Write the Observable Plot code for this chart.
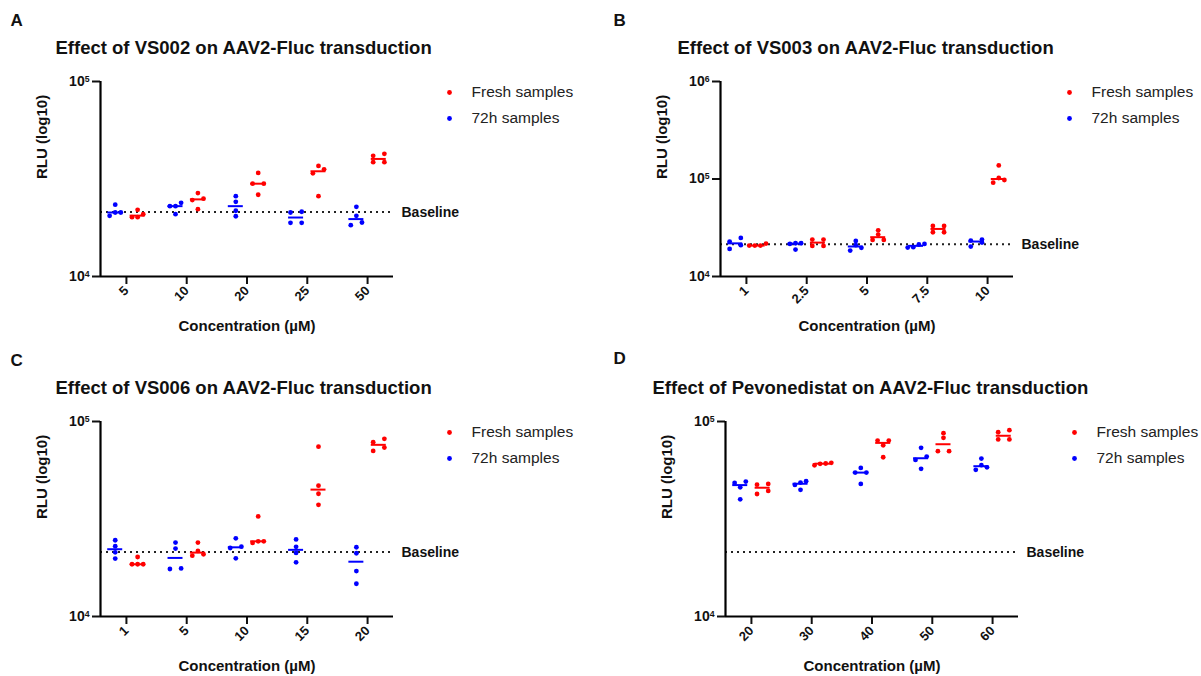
<!DOCTYPE html>
<html><head><meta charset="utf-8">
<script src="https://cdn.jsdelivr.net/npm/d3@7"></script>
<script src="https://cdn.jsdelivr.net/npm/@observablehq/plot@0.6"></script>
<style>
body{margin:0;background:#fff;width:1201px;height:676px;overflow:hidden;position:relative;font-family:"Liberation Sans",Arial,sans-serif}
.panel{position:absolute}
.panel svg{overflow:visible}
</style></head><body>
<div id="pA" class="panel" style="left:0;top:0"></div>
<div id="pB" class="panel" style="left:600px;top:0"></div>
<div id="pC" class="panel" style="left:0;top:340px"></div>
<div id="pD" class="panel" style="left:600px;top:340px"></div>
<script>
// ---------- data ----------
const seriesNames = ["Fresh samples", "72h samples"];
const seriesColors = ["#ff0000", "#0000ff"];
const baselineRLU = 21400;

const titleA = "Effect of VS002 on AAV2-Fluc transduction";
const catsA = ["5", "10", "20", "25", "50"];
const h72A = [[20480, 23340, 21290, 21290], [23880, 22950, 22950, 20880], [25830, 24160, 21730, 20370], [21290, 21480, 18840, 18840], [22760, 20480, 18330, 18920]];
const freshA = [[20880, 20150, 21980, 20150], [26790, 25060, 24660, 22150], [33970, 29920, 29920, 26260], [36900, 35470, 33810, 25830], [42570, 41580, 38570, 38570]];

const titleB = "Effect of VS003 on AAV2-Fluc transduction";
const catsB = ["1", "2.5", "5", "7.5", "10"];
const h72B = [[22800, 19190, 24890, 20940], [21940, 21590, 21940, 18870], [18460, 23170, 19680, 20940], [21590, 21280, 19970, 19810], [23940, 23380, 22290, 20280]];
const freshB = [[21780, 20750, 20750, 20750], [23940, 20600, 23940, 20600], [29780, 26900, 23720, 23720], [33040, 28450, 33040, 28450], [137800, 102400, 91600, 97700]];

const titleC = "Effect of VS006 on AAV2-Fluc transduction";
const catsC = ["1", "5", "10", "15", "20"];
const h72C = [[24610, 22930, 21330, 19820], [23950, 22300, 17520, 17640], [25180, 22810, 22460, 19870], [24850, 22760, 21180, 18970], [22650, 21100, 17100, 14720]];
const freshC = [[20190, 18530, 18530, 18530], [23950, 21680, 20850, 20520], [32590, 23830, 24300, 24300], [74300, 46880, 42600, 37400], [81510, 78340, 73500, 70630]];

const titleD = "Effect of Pevonedistat on AAV2-Fluc transduction";
const catsD = ["20", "30", "40", "50", "60"];
const h72D = [[48400, 45980, 49170, 39910], [49380, 48600, 47300, 44610], [54700, 57830, 54700, 47870], [73300, 66070, 63530, 57170], [64570, 59720, 56510, 58240]];
const freshD = [[47450, 47830, 44040, 42490], [61380, 60890, 59650, 60640], [79800, 79800, 75550, 65560], [87130, 82450, 70460, 70460], [88100, 90300, 80900, 80900]];

const yTicksLow = [1e4, 1e5];
const yTicksHigh = [1e4, 1e5, 1e6];
const xLabel = "Concentration (\u00b5M)";
const yLabel = "RLU (log10)";

// ---------- drawing ----------
const FONT = "Liberation Sans, Arial, Helvetica, sans-serif";
const H = 336, MT = 81, MB = 60, FRAME_W = 293;
const XDOM = [-0.43, 4.43];
const STEP = 5.6; // px spread between neighbouring points

function spread(values, pxPerDec) {
  const idx = d3.range(values.length).sort((a, b) => values[a] - values[b]);
  const rows = [];
  for (const i of idx) {
    const py = Math.log10(values[i]) * pxPerDec;
    const last = rows[rows.length - 1];
    if (last && py - last.start < 4.2) last.items.push(i);
    else rows.push({start: py, items: [i]});
  }
  const pattern = {1: [0], 2: [-1, 1], 3: [-1, 0, 1], 4: [-1.5, -0.5, 0.5, 1.5]};
  const off = new Array(values.length).fill(0);
  for (const r of rows) {
    const p = pattern[r.items.length] || r.items.map((_, k) => k - (r.items.length - 1) / 2);
    r.items.forEach((i, k) => off[i] = p[k] * STEP);
  }
  return off;
}

function makePanel(cfg) {
  const {el, letter, title, cats, fresh, h72, yMax, yTicks, width, marginLeft, titleX, letterX, letterY} = cfg;
  const marginRight = width - marginLeft - FRAME_W;
  const frameH = H - MT - MB;
  const pxPerDec = frameH / Math.log10(yMax / 1e4);
  const pxPerUnit = FRAME_W / (XDOM[1] - XDOM[0]);
  const shift = 11.2 / pxPerUnit;
  const half = 7.5 / pxPerUnit;

  const series = [
    {name: seriesNames[1], data: h72, dx: -shift},
    {name: seriesNames[0], data: fresh, dx: shift}
  ];
  const points = [], medians = [];
  for (const s of series) {
    cats.forEach((c, i) => {
      const vals = s.data[i];
      const offs = spread(vals, pxPerDec);
      vals.forEach((v, k) => points.push({series: s.name, x: i + s.dx + offs[k] / pxPerUnit, y: v}));
      medians.push({series: s.name, x: i + s.dx, y: d3.median(vals)});
    });
  }

  const chart = Plot.plot({
    width, height: H, marginLeft, marginRight, marginTop: MT, marginBottom: MB,
    style: {fontFamily: FONT, fontSize: "14px", fontWeight: "bold", color: "#111", background: "transparent", overflow: "visible"},
    x: {type: "linear", domain: XDOM, ticks: d3.range(cats.length), tickFormat: i => cats[i], tickRotate: -45, tickSize: 8, tickPadding: 4, label: null},
    y: {type: "log", domain: [1e4, yMax], ticks: yTicks, tickFormat: d => "10^" + Math.round(Math.log10(d)), tickSize: 8, tickPadding: 3, label: null},
    color: {domain: seriesNames, range: seriesColors},
    marks: [
      Plot.ruleY([baselineRLU], {stroke: "#222", strokeWidth: 2, strokeDasharray: "2,4"}),
      Plot.ruleX([XDOM[0]], {stroke: "#000", strokeWidth: 2.2}),
      Plot.ruleY([1e4], {stroke: "#000", strokeWidth: 2.2}),
      Plot.ruleY(medians, {y: "y", x1: d => d.x - half, x2: d => d.x + half, stroke: "series", strokeWidth: 2}),
      Plot.dot(points, {x: "x", y: "y", r: 2.4, fill: "series"}),
      Plot.text([baselineRLU], {y: d => d, text: () => "Baseline", frameAnchor: "right", dx: 8, textAnchor: "start", lineAnchor: "middle", fontSize: 14, fill: "#111"}),
      Plot.dot([seriesNames[0]], {fill: d => d, frameAnchor: "top-right", dx: 56, dy: 11, r: 2.4}),
      Plot.dot([seriesNames[1]], {fill: d => d, frameAnchor: "top-right", dx: 56, dy: 37, r: 2.4}),
      Plot.text([seriesNames[0]], {text: d => d, frameAnchor: "top-right", dx: 78, dy: 11, textAnchor: "start", lineAnchor: "middle", fontSize: 15.5, fontWeight: "normal", fill: "#222"}),
      Plot.text([seriesNames[1]], {text: d => d, frameAnchor: "top-right", dx: 78, dy: 37, textAnchor: "start", lineAnchor: "middle", fontSize: 15.5, fontWeight: "normal", fill: "#222"}),
      Plot.text([title], {text: d => d, frameAnchor: "top-left", dx: titleX - marginLeft, dy: -33, textAnchor: "start", lineAnchor: "middle", fontSize: 18.5, fill: "#111"}),
      Plot.text([letter], {text: d => d, frameAnchor: "top-left", dx: letterX - marginLeft, dy: letterY - MT, textAnchor: "start", lineAnchor: "middle", fontSize: 17, fill: "#111"}),
      Plot.text([xLabel], {text: d => d, frameAnchor: "bottom", dy: 50, lineAnchor: "middle", fontSize: 15, fill: "#111"}),
      Plot.text([yLabel], {text: d => d, frameAnchor: "left", dx: -58, rotate: -90, lineAnchor: "middle", fontSize: 15, fill: "#111"})
    ]
  });

  const svg = d3.select(chart);
  // axis tick labels: bigger, bold; y labels get a superscript exponent
  svg.selectAll("g[aria-label] text").each(function () {
    const g = this.closest("g[aria-label]");
    const lab = g ? g.getAttribute("aria-label") : "";
    if (!/axis/.test(lab)) return;
    const sel = d3.select(this);
    const t = this.textContent;
    const m = /^10\^(\d+)$/.exec(t);
    if (m) {
      sel.attr("font-size", 14).attr("font-weight", "bold");
      sel.text("");
      sel.append("tspan").text("10");
      sel.append("tspan").attr("dy", "-0.5em").attr("font-size", "0.62em").text(m[1]);
    } else if (/^x/.test(lab)) {
      sel.attr("font-size", 13).attr("font-weight", "bold");
    }
  });
  svg.selectAll("g[aria-label] text").each(function () {
    const p = this.parentNode;
    if (p && p.getAttribute && /axis/.test(p.getAttribute("aria-label") || "")) {
      p.setAttribute("font-size", /^y/.test(p.getAttribute("aria-label")) ? 14 : 13);
      p.setAttribute("font-weight", "bold");
    }
  });
  svg.selectAll('g[aria-label="x-axis tick"] path, g[aria-label="y-axis tick"] path').attr("stroke-width", 2);
  document.getElementById(el).appendChild(chart);
}

makePanel({el: "pA", letter: "A", title: titleA, cats: catsA, fresh: freshA, h72: h72A, yMax: 1e5, yTicks: yTicksLow, width: 600, marginLeft: 100, titleX: 55, letterX: 10, letterY: 20});
makePanel({el: "pB", letter: "B", title: titleB, cats: catsB, fresh: freshB, h72: h72B, yMax: 1e6, yTicks: yTicksHigh, width: 601, marginLeft: 120, titleX: 77, letterX: 13, letterY: 20});
makePanel({el: "pC", letter: "C", title: titleC, cats: catsC, fresh: freshC, h72: h72C, yMax: 1e5, yTicks: yTicksLow, width: 600, marginLeft: 100, titleX: 55, letterX: 10, letterY: 20});
makePanel({el: "pD", letter: "D", title: titleD, cats: catsD, fresh: freshD, h72: h72D, yMax: 1e5, yTicks: yTicksLow, width: 601, marginLeft: 125, titleX: 52, letterX: 13, letterY: 18});
</script>
</body></html>
